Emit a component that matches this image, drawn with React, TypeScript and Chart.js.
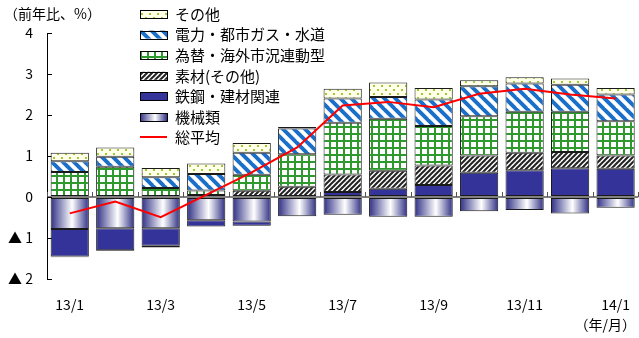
import React, { useEffect, useRef } from "react";
import { Chart, registerables } from "chart.js";
Chart.register(...registerables);

const categories = ["13/1", "13/2", "13/3", "13/4", "13/5", "13/6", "13/7", "13/8", "13/9", "13/10", "13/11", "13/12", "14/1"];
const xTickLabels = ["13/1", "", "13/3", "", "13/5", "", "13/7", "", "13/9", "", "13/11", "", "14/1"];
const yTickLabels: Record<string, string> = { "4": "4", "3": "3", "2": "2", "1": "1", "0": "0", "-1": "▲ 1", "-2": "▲ 2" };

const seriesNames = ["その他", "電力・都市ガス・水道", "為替・海外市況連動型", "素材(その他)", "鉄鋼・建材関連", "機械類", "総平均"];

const machinery = [-0.78, -0.76, -0.76, -0.57, -0.6, -0.47, -0.43, -0.48, -0.48, -0.35, -0.32, -0.4, -0.26];
const steel = [-0.67, -0.54, -0.43, -0.15, -0.1, 0, 0.12, 0.2, 0.29, 0.59, 0.65, 0.7, 0.69];
const materials = [-0.02, -0.02, -0.04, 0.05, 0.15, 0.25, 0.43, 0.44, 0.48, 0.42, 0.43, 0.4, 0.32];
const forex = [0.61, 0.74, 0.22, 0.11, 0.39, 0.79, 1.26, 1.27, 0.96, 0.96, 1.0, 0.98, 0.84];
const utilities = [0.26, 0.24, 0.26, 0.4, 0.54, 0.63, 0.59, 0.53, 0.65, 0.73, 0.69, 0.66, 0.65];
const others = [0.21, 0.23, 0.23, 0.26, 0.24, 0.04, 0.24, 0.35, 0.28, 0.15, 0.15, 0.15, 0.16];
const average = [-0.4, -0.11, -0.49, 0.05, 0.6, 1.21, 2.23, 2.32, 2.19, 2.52, 2.64, 2.5, 2.4];

const FONT = "'Noto Sans CJK JP', 'Noto Sans', sans-serif";
const NAVY = "#333399";
const BAR_PCT = 0.84;

function makeTile(w: number, h: number, draw: (c: CanvasRenderingContext2D) => void): HTMLCanvasElement {
  const cv = document.createElement("canvas");
  cv.width = w;
  cv.height = h;
  const c = cv.getContext("2d")!;
  draw(c);
  return cv;
}

function makePatterns(ctx: CanvasRenderingContext2D) {
  const dots = makeTile(8, 8, (c) => {
    c.fillStyle = "#ffffea";
    c.fillRect(0, 0, 8, 8);
    c.fillStyle = "#9acd32";
    c.fillRect(1, 1, 2, 2);
    c.fillRect(5, 5, 2, 2);
  });
  const stripes = makeTile(11, 11, (c) => {
    c.fillStyle = "#ffffff";
    c.fillRect(0, 0, 11, 11);
    c.strokeStyle = "#1a6fc8";
    c.lineWidth = 3.9;
    for (let k = -1; k <= 1; k++) {
      c.beginPath();
      c.moveTo(k * 11 - 2, -2);
      c.lineTo(k * 11 + 13, 13);
      c.stroke();
    }
  });
  const grid = makeTile(7, 7, (c) => {
    c.fillStyle = "#ffffff";
    c.fillRect(0, 0, 7, 7);
    c.fillStyle = "#2e9a2e";
    c.fillRect(0, 0, 7, 2);
    c.fillRect(0, 0, 2, 7);
  });
  const hatch = makeTile(5, 5, (c) => {
    c.fillStyle = "#ffffff";
    c.fillRect(0, 0, 5, 5);
    c.strokeStyle = "#222222";
    c.lineWidth = 2;
    for (let k = -1; k <= 1; k++) {
      c.beginPath();
      c.moveTo(k * 5 - 2, 7);
      c.lineTo(k * 5 + 7, -2);
      c.stroke();
    }
  });
  return {
    others: ctx.createPattern(dots, "repeat")!,
    utilities: ctx.createPattern(stripes, "repeat")!,
    forex: ctx.createPattern(grid, "repeat")!,
    materials: ctx.createPattern(hatch, "repeat")!,
  };
}

function machineGradient(ctx: CanvasRenderingContext2D, x0: number, x1: number) {
  const g = ctx.createLinearGradient(x0, 0, x1, 0);
  g.addColorStop(0, "#2f2f85");
  g.addColorStop(0.56, "#ffffff");
  g.addColorStop(1, "#2f2f85");
  return g;
}

export default function App() {
  const ref = useRef<HTMLCanvasElement | null>(null);

  useEffect(() => {
    document.body.style.margin = "0";
    const canvas = ref.current!;
    const ctx2d = canvas.getContext("2d")!;
    const pats = makePatterns(ctx2d);

    const machineFill = (c: any) => {
      const chart = c.chart;
      const xs = chart.scales && chart.scales.x;
      if (!xs || c.dataIndex === undefined) return NAVY;
      const cx = xs.getPixelForValue(c.dataIndex);
      const w = (xs.width / categories.length) * BAR_PCT;
      if (!isFinite(cx) || !isFinite(w) || w <= 0) return NAVY;
      return machineGradient(chart.ctx, cx - w / 2, cx + w / 2);
    };

    const legendFills: any[] = [pats.others, pats.utilities, pats.forex, pats.materials, NAVY, "gradient", "line"];

    const overlay = {
      id: "overlay",
      beforeDatasetsDraw(chart: any) {
        const c = chart.ctx;
        const xs = chart.scales.x;
        const ys = chart.scales.y;
        const y0 = ys.getPixelForValue(0);
        const step = xs.getPixelForValue(1) - xs.getPixelForValue(0);
        c.save();
        c.strokeStyle = "#555555";
        c.lineWidth = 1;
        for (let i = 0; i <= categories.length; i++) {
          const x = Math.round(xs.getPixelForValue(i) - step / 2) + 0.5;
          c.beginPath();
          c.moveTo(x, y0);
          c.lineTo(x, y0 - 5);
          c.stroke();
        }
        c.strokeStyle = "#000000";
        ys.ticks.forEach((t: any) => {
          const y = Math.round(ys.getPixelForValue(t.value)) + 0.5;
          c.beginPath();
          c.moveTo(chart.chartArea.left, y);
          c.lineTo(chart.chartArea.left + 5, y);
          c.stroke();
        });
        c.restore();
      },
      afterDraw(chart: any) {
        const c = chart.ctx;
        c.save();
        c.fillStyle = "#000";
        c.textBaseline = "middle";
        c.font = `14px ${FONT}`;
        c.textAlign = "left";
        c.fillText("（前年比、%）", 4, 14);
        c.textAlign = "right";
        c.fillText("（年/月）", 636, 325);
        const bx = 140, bw = 27, bh = 8;
        c.font = `15px ${FONT}`;
        c.textAlign = "left";
        seriesNames.forEach((name, i) => {
          const yc = 14 + i * 20.6;
          const f = legendFills[i];
          if (f === "line") {
            c.strokeStyle = "#ff0000";
            c.lineWidth = 2;
            c.beginPath();
            c.moveTo(bx, Math.round(yc - 1));
            c.lineTo(bx + bw, Math.round(yc - 1));
            c.stroke();
          } else {
            c.fillStyle = f === "gradient" ? machineGradient(c, bx, bx + bw) : f;
            c.fillRect(bx, yc - bh / 2, bw, bh);
            c.strokeStyle = "#000";
            c.lineWidth = 1;
            c.strokeRect(bx + 0.5, Math.round(yc - bh / 2) + 0.5, bw, bh);
          }
          c.fillStyle = "#000";
          c.fillText(name, 175, yc);
        });
        c.restore();
      },
    };

    const barCommon = {
      type: "bar" as const,
      borderColor: "#1a1a1a",
      borderWidth: 1,
      borderSkipped: false as const,
      barPercentage: BAR_PCT,
      categoryPercentage: 1,
      stack: "s",
    };

    const chart = new Chart(canvas, {
      data: {
        labels: categories,
        datasets: [
          { ...barCommon, label: seriesNames[5], data: machinery, backgroundColor: machineFill },
          { ...barCommon, label: seriesNames[4], data: steel, backgroundColor: NAVY },
          { ...barCommon, label: seriesNames[3], data: materials, backgroundColor: pats.materials },
          { ...barCommon, label: seriesNames[2], data: forex, backgroundColor: pats.forex },
          { ...barCommon, label: seriesNames[1], data: utilities, backgroundColor: pats.utilities },
          { ...barCommon, label: seriesNames[0], data: others, backgroundColor: pats.others },
          {
            type: "line" as const,
            label: seriesNames[6],
            data: average,
            borderColor: "#ff0000",
            borderWidth: 2,
            pointRadius: 0,
            fill: false,
            tension: 0,
            order: -1,
            stack: "line",
          },
        ] as any,
      },
      options: {
        responsive: false,
        animation: false,
        devicePixelRatio: 1,
        layout: { padding: { top: 33, left: 0, right: 0, bottom: 0 } },
        plugins: { legend: { display: false }, tooltip: { enabled: false }, title: { display: false } },
        scales: {
          x: {
            type: "category",
            stacked: true,
            offset: true,
            grid: { display: false },
            border: { display: false },
            ticks: {
              autoSkip: false,
              maxRotation: 0,
              padding: 9,
              color: "#000",
              font: { family: FONT, size: 14 },
              callback: (_v: any, i: number) => xTickLabels[i],
            },
            afterFit: (s: any) => {
              s.height = 59;
            },
          },
          y: {
            stacked: true,
            min: -2,
            max: 4,
            ticks: {
              stepSize: 1,
              padding: 14,
              color: "#000",
              font: { family: FONT, size: 14 },
              callback: (v: any) => yTickLabels[String(v)] ?? "",
            },
            grid: {
              drawTicks: false,
              color: (c: any) => (c.tick && c.tick.value === 0 ? "#808080" : "rgba(0,0,0,0)"),
              lineWidth: (c: any) => (c.tick && c.tick.value === 0 ? 2 : 0),
            },
            border: { display: true, color: "#000", width: 1 },
            afterFit: (s: any) => {
              s.width = 47;
            },
          },
        },
      },
      plugins: [overlay],
    } as any);

    return () => chart.destroy();
  }, []);

  return <canvas ref={ref} width={639} height={338} style={{ display: "block" }} />;
}
